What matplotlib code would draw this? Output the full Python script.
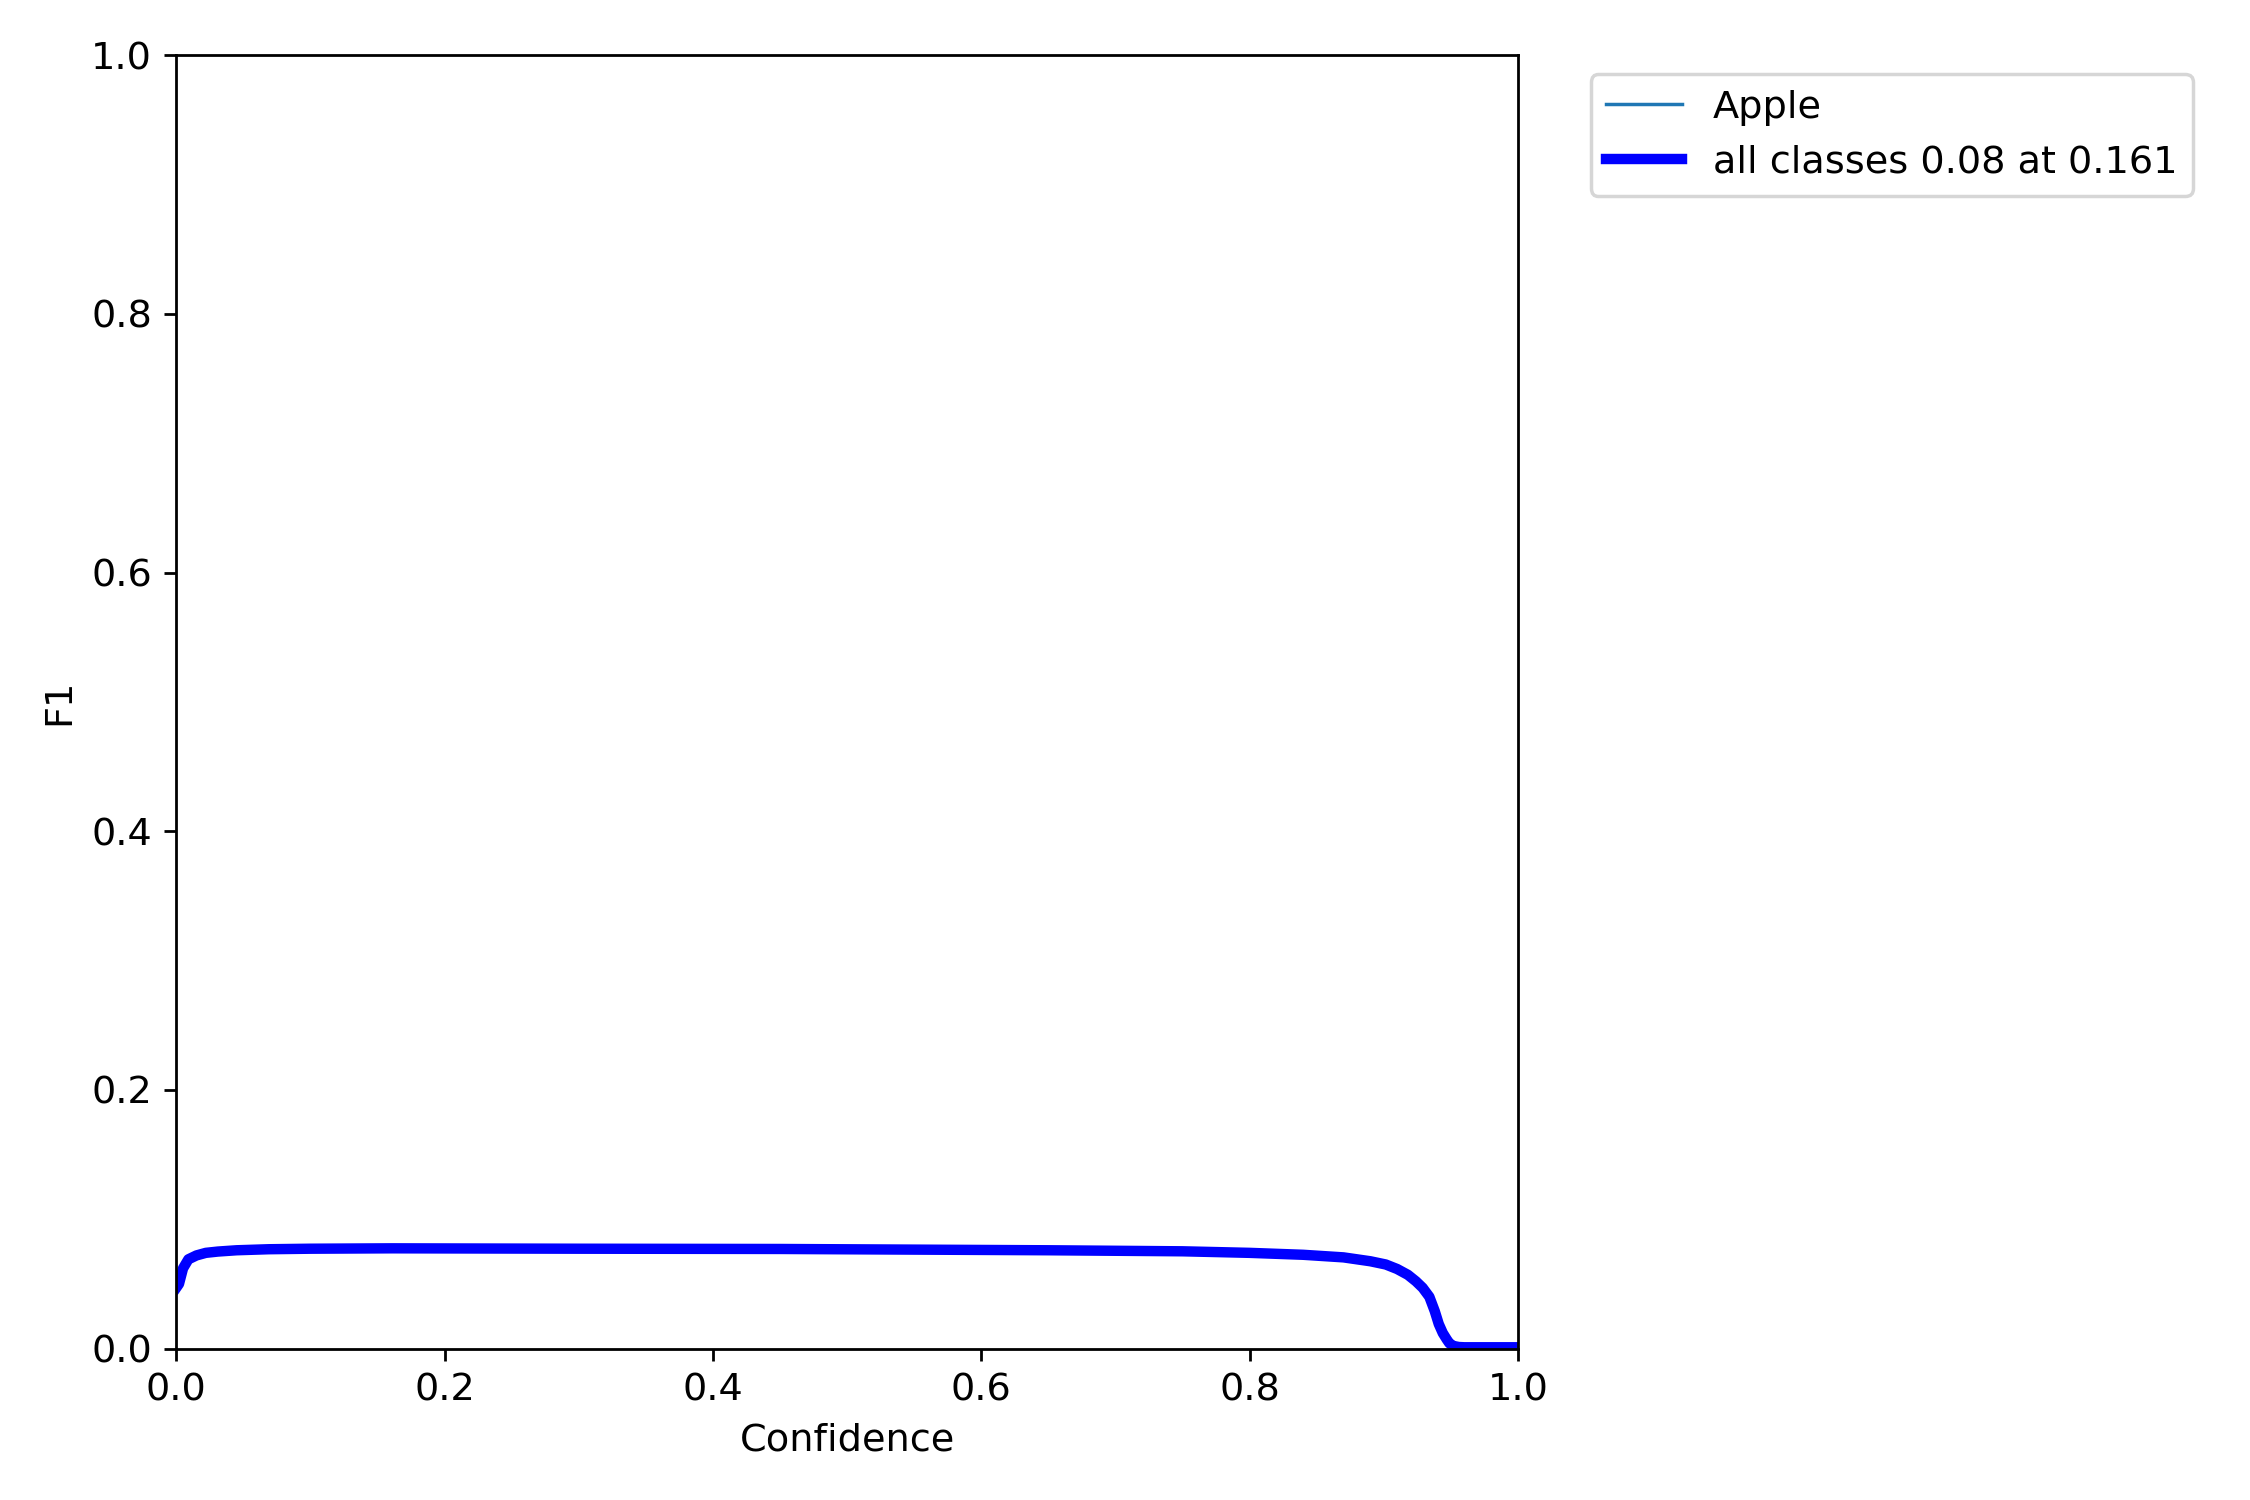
import matplotlib
matplotlib.use("Agg")
import matplotlib.pyplot as plt

plt.rc("font", size=11)

# F1 vs confidence
conf = [0.0, 0.002, 0.005, 0.009, 0.015, 0.022, 0.031, 0.045, 0.069, 0.1, 0.161,
        0.3, 0.45, 0.55, 0.65, 0.75, 0.8, 0.84, 0.87, 0.89, 0.9015, 0.91, 0.918, 0.924,
        0.929, 0.934, 0.938, 0.941, 0.944, 0.947, 0.949, 0.952, 0.956, 0.96, 1.0]
f1 = [0.047, 0.050, 0.062, 0.069, 0.072, 0.074, 0.075, 0.076, 0.0768, 0.0772, 0.0775,
      0.0772, 0.0770, 0.0765, 0.0760, 0.0752, 0.0740, 0.0725, 0.0705, 0.0675, 0.065, 0.0615, 0.057, 0.052,
      0.047, 0.040, 0.029, 0.019, 0.012, 0.007, 0.004, 0.002, 0.0012, 0.001, 0.001]
names = ["Apple"]
best_f1 = 0.08
best_conf = 0.161

fig, ax = plt.subplots(1, 1, figsize=(9, 6), tight_layout=True)
ax.plot(conf, f1, linewidth=1, label=names[0])
ax.plot(conf, f1, linewidth=3, color="blue",
        label="all classes {:.2f} at {:.3f}".format(best_f1, best_conf))
ax.set_xlabel("Confidence")
ax.set_ylabel("F1")
ax.set_xlim(0, 1)
ax.set_ylim(0, 1)
ax.legend(bbox_to_anchor=(1.04, 1), loc="upper left")
fig.savefig("out.png", dpi=250)
